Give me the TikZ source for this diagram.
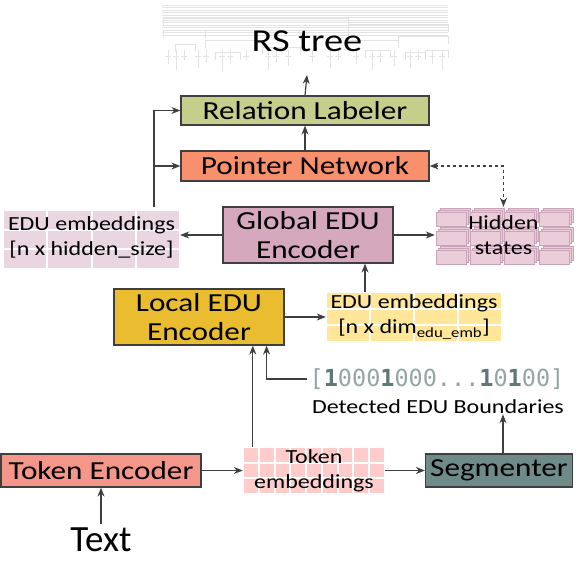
\documentclass[tikz,border=0pt]{standalone}
\usepackage{fontspec}
\setmainfont{Carlito}[FakeStretch=1.2]
\newfontfamily\plainfont{Carlito}
\newfontfamily\bitfont{DejaVu Sans Mono}
\usepackage{tikz}
\usetikzlibrary{arrows.meta, positioning, calc}

\definecolor{edge}{HTML}{3F3F3F}
\definecolor{relfill}{HTML}{C5CE8B}
\definecolor{ptrfill}{HTML}{F9906D}
\definecolor{globfill}{HTML}{D5A8BE}
\definecolor{locfill}{HTML}{EABD30}
\definecolor{tencfill}{HTML}{F5968B}
\definecolor{segfill}{HTML}{6E8B89}
\definecolor{ledufill}{HTML}{EAD6E0}
\definecolor{yellowfill}{HTML}{FFE699}
\definecolor{tembfill}{HTML}{FFCCCC}
\definecolor{hidfill}{HTML}{EBCDDA}
\definecolor{hidedge}{HTML}{C9A3B7}
\definecolor{bitlight}{HTML}{95A5A5}
\definecolor{bitdark}{HTML}{5E7878}

\tikzset{
  block/.style = {
    rectangle, draw=edge, line width=1.2pt, inner sep=0pt,
    align=center, font=\fontsize{26}{29}\selectfont
  },
  embtext/.style = {
    inner sep=0pt, align=center, font=\fontsize{20}{25}\selectfont
  },
  myarrow/.style = {-{Stealth[length=9pt, width=7pt]}, line width=1.2pt, draw=edge},
  dasharrow/.style = {{Stealth[length=9pt, width=7pt]}-{Stealth[length=9pt, width=7pt]},
    dashed, line width=1.2pt, draw=edge},
  treeline/.style = {draw=gray!22, line width=0.6pt}
}

% grid of cells: x0, y0, width, height, columns, rows, colour
\newcommand{\cellgrid}[7]{%
  \foreach \ci in {1,...,#5}{%
    \foreach \cj in {1,...,#6}{%
      \fill[#7] ({#1+(\ci-1)*(#3)/#5+1}, {#2+(\cj-1)*(#4)/#6+1})
        rectangle ++({(#3)/#5-2}, {(#4)/#6-2});
    }}}
\newcommand{\onebit}[1]{{\bfseries\color{bitdark}#1}}

\begin{document}
\begin{tikzpicture}[x=1pt, y=-1pt]
  \useasboundingbox (0,0) rectangle (582,568);

  % RS tree sketch
  \foreach \ty in {5,7.5,...,35} \draw[treeline] (162,\ty) -- (448,\ty);
  \foreach \xa/\xb/\ty in {163/348/18, 163/205/30, 205/262/40, 262/300/47, 300/348/32,
                           348/448/24, 348/398/40, 398/448/36, 425/448/50, 175/195/44,
                           215/240/52, 365/390/50, 405/425/52}
    \draw[treeline] (\xa,\ty+8) |- (\xb,\ty) -- ++(0,8);
  \foreach \tx/\tl in {168/14, 176/20, 184/10, 198/18, 206/12, 222/22, 230/14, 246/10,
                       268/20, 276/12, 288/16, 312/12, 330/18, 338/10, 356/14, 372/20,
                       380/12, 394/16, 410/18, 418/10, 432/14, 442/20}
    \draw[treeline] (\tx,50) -- ++(0,\tl) (\tx-3,56) -- ++(6,0);
  \node[font=\fontsize{32}{32}\selectfont] (rst) at (307,41) {RS tree};
  \coordinate (treefoot) at (307,75);

  % Cell grids
  \cellgrid{3}{210}{177}{59}{4}{3}{ledufill}
  \cellgrid{326}{292}{176}{50}{4}{3}{yellowfill}
  \cellgrid{243}{447}{142}{47}{9}{3}{tembfill}
  \foreach \ci in {0,...,3}{
    \foreach \cj in {0,...,2}{
      \foreach \k in {2,1,0}
        \draw[hidedge, fill=hidfill, line width=0.8pt]
          ({436+\ci*34.3+\k*2}, {208+\cj*19+(2-\k)*2}) rectangle ++(30,14);
    }}

  % Blocks
  \node[block, fill=relfill, minimum width=248pt, minimum height=29pt] (rel) at (305,110.5) {Relation Labeler};
  \node[block, fill=ptrfill, minimum width=248pt, minimum height=30pt] (ptr) at (305,166) {Pointer Network};
  \node[block, fill=globfill, minimum width=170pt, minimum height=56pt] (glob) at (308,235) {Global EDU\\Encoder};
  \node[block, fill=locfill, minimum width=170pt, minimum height=56pt] (loc) at (199,317) {Local EDU\\Encoder};
  \node[block, fill=tencfill, minimum width=200pt, minimum height=33pt] (tenc) at (101,470.5) {Token Encoder};
  \node[block, fill=segfill, minimum width=147pt, minimum height=33pt] (seg) at (499,470.5) {Segmenter};

  % Embeddings and states
  \node[embtext, minimum width=177pt, minimum height=59pt] (ledu) at (91.5,237) {EDU embeddings\\{[}n x hidden\_size{]}};
  \node[embtext, minimum width=137pt, minimum height=57pt] (hid) at (503.5,235.5) {Hidden\\states};
  \node[embtext, minimum width=176pt, minimum height=50pt] (yedu) at (414,317) {EDU embeddings\\{[}n x dim\textsubscript{edu\_emb}{]}};
  \node[embtext, minimum width=142pt, minimum height=47pt] (temb) at (314,470.5) {Token\\embeddings};
  \node[inner sep=2pt, text=bitlight, font=\bitfont\fontsize{23.5}{24}\selectfont] (bits) at (437,379)
    {[\onebit{1}000\onebit{1}000...\onebit{1}0\onebit{1}00]};
  \node[embtext] (det) at (438,407) {Detected EDU Boundaries};
  \node[font=\plainfont\fontsize{37}{37}\selectfont] (txt) at (101,540) {Text};

  % Connectors
  \draw[myarrow] (glob.west) -- (ledu.east |- glob.west);
  \draw[myarrow] (glob.east) -- (hid.west |- glob.east);
  \draw[myarrow] ([xshift=62.5pt]ledu.north) |- (ptr.west);
  \draw[myarrow] ([xshift=62.5pt]ledu.north) |- (rel.west);
  \draw[myarrow] (ptr.north) -- (rel.south);
  \draw[myarrow] (rel.north) -- (treefoot);
  \draw[dasharrow] (ptr.east) -| (hid.north);
  \draw[myarrow] (loc.east) -- (yedu.west);
  \draw[myarrow] ([xshift=-49pt]yedu.north) -- ([xshift=-49pt]yedu.north |- glob.south);
  \draw[myarrow] ([xshift=10pt]temb.north west) -- ([xshift=10pt]temb.north west |- loc.south);
  \draw[myarrow] (bits.west) -| ([xshift=-18pt]loc.south east);
  \draw[myarrow] (tenc.east) -- (temb.west);
  \draw[myarrow] (temb.east) -- (seg.west);
  \draw[myarrow] ([xshift=4pt]seg.north) -- ([xshift=4pt]seg.north |- det.south);
  \draw[myarrow] (txt.north) -- (tenc.south);
\end{tikzpicture}
\end{document}
